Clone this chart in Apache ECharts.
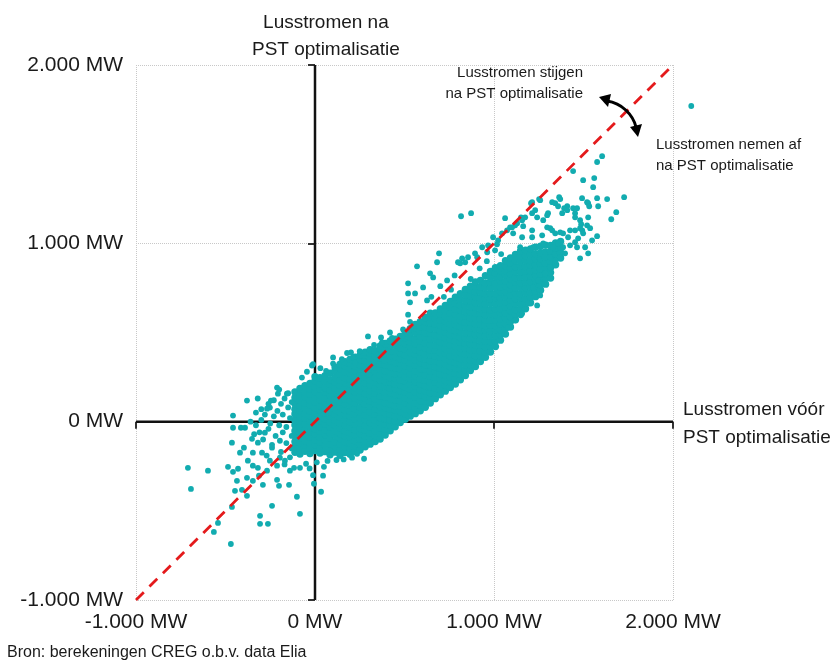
<!DOCTYPE html>
<html>
<head>
<meta charset="utf-8">
<script src="https://cdn.jsdelivr.net/npm/echarts@6/dist/echarts.min.js"></script>
<style>
  html, body { margin: 0; padding: 0; background: #fff; }
  #chart { width: 830px; height: 662px; }
</style>
</head>
<body>
<div id="chart"></div>
<script>
// lusstromen voor (x) en na (y) PST optimalisatie, in MW
// dichte kern van de puntenwolk, per kolom: [x, [y, y, ...]]
var bandColumns = [
  [-112, [-172,-140,-113,-79,-52,-18,10,43,70,101,134,166]],
  [-84, [-181,-150,-118,-92,-57,-31,4,29,62,90,122,150,186]],
  [-56, [-166,-131,-106,-70,-45,-11,20,45,80,104,140,167,202]],
  [-28, [-179,-146,-119,-86,-60,-26,3,34,60,95,122,154,182,215]],
  [0, [-162,-128,-101,-68,-41,-10,17,50,77,110,136,168,195,228,252]],
  [28, [-176,-149,-114,-87,-54,-27,6,32,66,91,124,150,186,212,246]],
  [56, [-168,-133,-105,-72,-46,-13,15,48,74,108,134,166,192,226,258]],
  [84, [-186,-152,-124,-90,-63,-30,-3,30,56,90,116,150,176,210,236,272]],
  [112, [-171,-139,-112,-78,-51,-18,8,42,68,102,128,162,188,222,248,284,306]],
  [140, [-189,-155,-127,-94,-67,-34,-7,26,52,86,112,146,172,206,232,266,298,322]],
  [168, [-173,-140,-113,-80,-53,-20,7,40,66,100,126,160,186,220,246,280,312,336]],
  [196, [-183,-148,-121,-88,-61,-28,-1,32,58,92,118,152,178,212,238,272,298,328,350]],
  [224, [-167,-134,-107,-74,-47,-14,13,46,72,106,132,166,192,226,252,286,312,342,362]],
  [252, [-159,-126,-99,-66,-39,-6,21,54,80,114,140,174,200,234,260,294,318,348,372]],
  [280, [-141,-108,-81,-48,-21,12,39,72,98,132,158,192,218,252,278,312,342,372,390]],
  [308, [-126,-92,-65,-32,-5,28,55,88,114,148,174,208,234,268,294,328,357,385,404]],
  [336, [-111,-78,-51,-18,9,42,69,102,128,162,188,222,248,282,308,342,370,398]],
  [364, [-97,-64,-37,-4,23,56,83,116,142,176,202,236,262,296,322,356,382,410,424]],
  [392, [-75,-42,-15,18,45,78,105,138,164,198,224,258,284,318,344,378,410,438]],
  [420, [-51,-18,9,42,69,102,129,162,188,222,248,282,308,342,368,397,426,452]],
  [448, [-29,4,31,64,91,124,151,184,210,244,270,304,330,364,394,428,462]],
  [476, [-5,28,55,88,115,148,175,208,234,268,294,328,354,388,416,448,478]],
  [504, [13,46,73,106,133,166,193,226,252,286,312,346,372,406,438,470,498]],
  [532, [31,62,89,122,149,182,209,242,268,302,328,362,388,422,446,474,500,522]],
  [560, [45,78,105,138,165,198,225,258,284,318,344,378,404,438,464,500,526,545]],
  [588, [61,92,119,152,179,212,239,272,298,332,358,392,418,452,478,508,534,560]],
  [616, [81,114,141,174,201,234,261,294,320,354,380,414,440,474,500,532,560,584]],
  [644, [105,136,163,196,223,256,283,316,342,376,402,436,462,496,522,556,586,608]],
  [672, [129,162,189,222,249,282,309,342,368,402,428,462,488,522,548,582,610]],
  [700, [151,182,209,242,269,302,329,362,388,422,448,482,508,542,568,602,632]],
  [728, [171,204,231,264,291,324,351,384,410,444,470,504,530,564,590,624,652]],
  [756, [191,222,249,282,309,342,369,402,428,462,488,522,548,582,608,642,674]],
  [784, [211,244,271,304,331,364,391,424,450,484,510,544,570,604,630,664,698]],
  [812, [235,266,293,326,353,386,413,446,472,506,532,566,592,626,652,686,718]],
  [840, [259,292,319,352,379,412,439,472,498,532,558,592,618,652,678,712,742]],
  [868, [287,318,345,378,405,438,465,498,524,558,584,618,644,678,704,738,760]],
  [896, [309,342,369,402,429,462,489,522,548,582,608,642,668,702,728,760,784]],
  [924, [337,368,395,428,455,488,515,548,574,608,634,668,694,728,754,792]],
  [952, [361,392,419,452,479,512,539,572,598,632,658,692,718,752,778,818]],
  [980, [391,422,449,482,509,542,569,602,628,662,688,722,748,782,808,842]],
  [1008, [421,452,479,512,539,572,599,632,658,692,718,752,778,812,834,864]],
  [1036, [457,488,515,548,575,608,635,668,694,728,754,788,814,848,874]],
  [1064, [491,522,549,582,609,642,669,702,728,762,788,822,848,874,902]],
  [1092, [531,562,589,622,649,682,709,742,768,802,828,862,888,918]],
  [1120, [571,602,629,662,689,722,749,782,808,842,868,902,938]],
  [1148, [601,632,659,692,719,752,779,812,838,872,898,928,956]],
  [1176, [633,664,691,724,751,784,811,844,870,904,930,962]],
  [1204, [667,698,725,758,785,818,845,878,904,938,968]],
  [1232, [701,732,759,792,819,852,879,912,940,978]],
  [1260, [737,768,795,828,855,888,915,948,984]],
  [1288, [771,802,829,862,889,922,952,990]],
  [1316, [805,836,863,896,923,956,988]],
  [1344, [880,912,941,972,1002]],
  [1372, [918,949,978,1010]]
];

// losse punten links en onder de kern
var leftScatter = [
  [-710,-259],[-693,-377],[-598,-275],[-486,-253],[-458,-281],[-464,-478],[-565,-618],
  [-470,-686],[-542,-568],[-436,-332],[-447,-388],[-408,-382],[-380,-416],[-307,-528],
  [-307,-573],[-263,-573],[-240,-472],[-101,-421],[-84,-517],[-145,-354],[-201,-360],
  [-212,-326],[-291,-354],[-313,-303],[-347,-332],[-380,-315],[-430,-264],[-464,-118],
  [-458,-34],[-458,34],[-380,118],[-419,-174],[-397,-146],[-375,-219],[-347,-247],
  [-319,-259],[-268,-275],[-140,-275],[-117,-259],[-84,-259],[-50,-236],[-252,79],
  [-212,191],[-207,157],[-268,73],[-330,51],[-414,-34],[-391,-34],[-352,-96],[-319,-118],
  [-280,-62],[-240,-146],[-196,-107],[-196,-202],[-296,-174],[-347,-174],[-252,-219],
  [-212,-247],[-168,-219],[-6,-348],[34,-393],[45,-303],[50,-253],[-157,157],[-246,118],
  [-330,-20],[-300,10],[-280,40],[-250,-10],[-230,30],[-210,60],[-190,100],[-170,130],
  [-150,80],[-140,20],[-160,-30],[-180,-60],[-200,-20],[-220,-80],[-260,-40],[-290,-100],
  [-310,-60],[-240,-130],[-270,-190],[-190,-170],[-160,-120],[-130,-80],[-140,-200],
  [-170,-240],[-130,-150],[-130,110],[-150,160],[-180,40],[-200,180],[-230,120],
  [-260,100],[-300,70],[-340,-70],[-360,0],[-320,130],
  [207,-202],[235,-180],[274,-208],[-11,-300],[-30,-262],[10,-228],[70,-220],[120,-215],[160,-212]
];

// losse punten boven de kern, rond de diagonaal
var upperScatter = [
  [-73,247],[-17,315],[-11,322],[-45,280],[30,300],[62,285],[101,326],[101,360],[150,350],
  [179,385],[201,388],[212,360],[224,331],[250,395],[296,478],[330,430],[369,472],[374,445],
  [419,500],[430,470],[486,480],[492,517],[531,560],[520,600],[531,669],[559,719],[520,719],
  [520,776],[570,871],[604,753],[626,680],[643,832],[660,809],[650,700],[682,894],[693,944],
  [700,760],[720,700],[738,792],[760,740],[780,820],[799,894],[811,888],[839,894],[816,1152],
  [872,1169],[870,800],[906,922],[920,860],[960,900],[962,950],[1006,961],[1017,995],
  [1040,940],[1062,1141],[1090,1090],[1118,1101],[1151,1146]
];

// rechterdeel van de wolk
var rightScatter = [
  [1045,1056],[1073,1073],[1023,1017],[995,1034],[967,989],[934,978],[894,944],[855,922],
  [822,916],[1101,1090],[1129,1113],[1157,1130],[1174,1146],[1213,1169],[1241,1146],
  [1213,1231],[1258,1242],[1302,1169],[1325,1231],[1358,1208],[1381,1169],[1409,1208],
  [1453,1169],[1275,1130],[1297,1090],[1325,1073],[1342,1056],[1386,1056],[1414,1034],
  [1425,1073],[1453,1073],[1493,1073],[1487,1107],[1520,1101],[1498,1056],[1470,1028],
  [1453,1006],[1425,989],[1386,978],[1358,1000],[1397,944],[1370,922],[1342,905],
  [1314,866],[1286,832],[1247,792],[1219,753],[1258,708],[1241,652],[1191,663],[1157,607],
  [1118,568],[1079,528],[1163,1096],[1213,1073],[1269,1045],[1314,1085],[1370,1062],
  [1213,1034],[1157,1034],[1107,1056],[1464,978],[1509,978],[1526,944],[1481,916],
  [1330,978],[1275,1000],[1219,978],[1146,978],[1364,1259],[1342,1225],[1207,1225],
  [1252,1248],[1230,1186],[1297,1158],[1370,1248],[1392,1197],[1442,1197],[1464,1197],
  [1492,1253],[1520,1231],[1526,1225],[1532,1208],[1576,1253],[1582,1208],[1632,1248],
  [1727,1259],[1683,1175],[1655,1135],[1576,1040],[1548,1017],[1537,1085],[1481,1085],
  [1526,1146],[1453,1146],[1481,1130],[1409,1186],[1560,1366],[1554,1315],[1498,1354],
  [1442,1405],[1576,1456],[1604,1489]
];

var outliers = [[2102,1770]];

var xTicks = [-1000, 0, 1000, 2000];
var yTicks = [-1000, 0, 1000, 2000];
var zeroV = [[0,-1000],[0,2000]];
var zeroH = [[-1000,0],[2000,0]];
var diagonal = [[-1000,-1000],[2000,2000]];

var corePoints = [];
bandColumns.forEach(function(c) {
  c[1].forEach(function(y) { corePoints.push([c[0], y]); });
});
var loosePoints = [].concat(leftScatter, upperScatter, rightScatter, outliers);

function mw(v) {
  if (v === 0) return '0 MW';
  return (v < 0 ? '-' : '') + (Math.abs(v) / 1000) + '.000 MW';
}

var font = '"Liberation Sans", Arial, sans-serif';
var teal = '#12acb0';
var chart = echarts.init(document.getElementById('chart'));

var axisCommon = {
  type: 'value',
  interval: 1000,
  axisLine: { show: false },
  axisTick: { show: true, length: 7, lineStyle: { color: '#333', width: 2 } },
  splitLine: { show: true, lineStyle: { color: '#c8c8c8', type: 'dotted', width: 1 } },
  axisLabel: { color: '#1a1a1a', fontSize: 21, fontFamily: font, formatter: mw }
};

option = {
  animation: false,
  backgroundColor: '#fff',
  grid: { left: 136, right: 157, top: 65, bottom: 62, containLabel: false },
  xAxis: echarts.util.merge({
    min: xTicks[0], max: xTicks[xTicks.length - 1],
    axisLabel: { margin: 12 }
  }, axisCommon),
  yAxis: echarts.util.merge({
    min: yTicks[0], max: yTicks[yTicks.length - 1],
    axisLabel: { margin: 13 }
  }, axisCommon),
  series: [
    {
      type: 'line', data: zeroV, symbol: 'none', z: 1, silent: true,
      lineStyle: { color: '#111', width: 2.5 }
    },
    {
      type: 'line', data: zeroH, symbol: 'none', z: 1, silent: true,
      lineStyle: { color: '#111', width: 2.5 }
    },
    {
      name: 'kern', type: 'scatter', data: corePoints, z: 2, silent: true,
      clip: false, symbolSize: 7.4,
      itemStyle: { color: teal, opacity: 1, borderWidth: 0 }
    },
    {
      name: 'los', type: 'scatter', data: loosePoints, z: 2, silent: true,
      clip: false, symbolSize: 5.8,
      itemStyle: { color: teal, opacity: 1, borderWidth: 0 }
    },
    {
      type: 'line', data: diagonal, symbol: 'none', z: 3, silent: true,
      lineStyle: { color: '#e41a1c', width: 2.8, type: [11, 8] }
    }
  ],
  graphic: [
    {
      type: 'text', left: 252, top: 9, z: 10,
      style: { text: 'Lusstromen na\nPST optimalisatie', font: '19px ' + font,
        fill: '#1a1a1a', textAlign: 'center', lineHeight: 27 }
    },
    {
      type: 'text', x: 683, y: 396, z: 10,
      style: { text: 'Lusstromen vóór\nPST optimalisatie', font: '19px ' + font,
        fill: '#1a1a1a', textAlign: 'left', lineHeight: 28 }
    },
    {
      type: 'text', x: 583, y: 62, z: 10,
      style: { text: 'Lusstromen stijgen\nna PST optimalisatie', font: '15px ' + font,
        fill: '#1a1a1a', textAlign: 'right', lineHeight: 21 }
    },
    {
      type: 'text', x: 656, y: 134, z: 10,
      style: { text: 'Lusstromen nemen af\nna PST optimalisatie', font: '15px ' + font,
        fill: '#1a1a1a', textAlign: 'left', lineHeight: 21 }
    },
    {
      type: 'text', x: 7, y: 645, z: 10,
      style: { text: 'Bron: berekeningen CREG o.b.v. data Elia', font: '16px ' + font,
        fill: '#1a1a1a', textAlign: 'left' }
    },
    {
      type: 'bezierCurve', z: 10,
      shape: { x1: 607, y1: 101, cpx1: 622, cpy1: 103, cpx2: 633, cpy2: 115, x2: 636, y2: 127 },
      style: { stroke: '#000', lineWidth: 3, fill: null }
    },
    {
      type: 'polygon', z: 10,
      shape: { points: [[599, 97], [611, 94], [608, 107]] },
      style: { fill: '#000' }
    },
    {
      type: 'polygon', z: 10,
      shape: { points: [[638, 137], [642, 124], [630, 127]] },
      style: { fill: '#000' }
    }
  ]
};

chart.setOption(option);
</script>
</body>
</html>
